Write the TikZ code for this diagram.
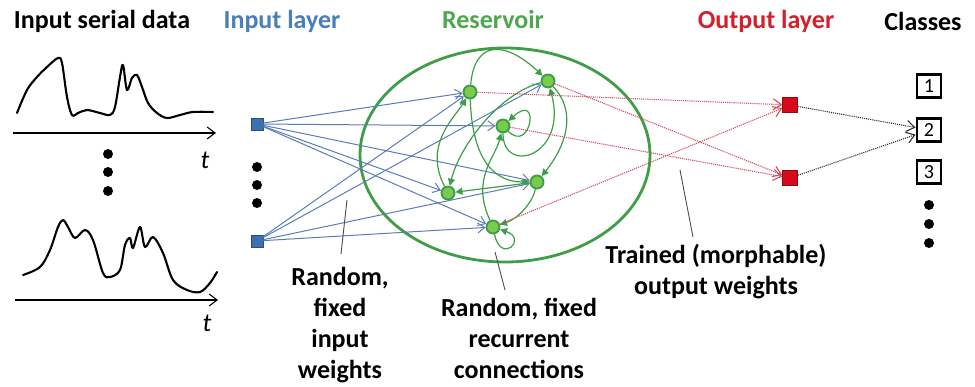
\documentclass[tikz,border=0pt]{standalone}
\usepackage{fontspec}
\setmainfont{Carlito}
\usetikzlibrary{arrows.meta}

\definecolor{inblue}{HTML}{3F6FB3}
\definecolor{wblue}{HTML}{5A7DBA}
\definecolor{resgreen}{HTML}{3E9E47}
\definecolor{nodegreen}{HTML}{7ACD4C}
\definecolor{outred}{HTML}{D80A1A}
\definecolor{wred}{HTML}{D34A5C}
\definecolor{headblue}{HTML}{4A7EBB}
\definecolor{headgreen}{HTML}{4DA84D}
\definecolor{headred}{HTML}{D2202C}

\tikzset{
  innode/.style={rectangle,draw=inblue!70!black,fill=inblue,minimum size=12pt,inner sep=0pt,line width=0.8pt},
  resnode/.style={circle,draw=resgreen,fill=nodegreen,minimum size=13pt,inner sep=0pt,line width=1.9pt},
  outnode/.style={rectangle,draw=outred!70!black,fill=outred,minimum size=15pt,inner sep=0pt,line width=0.6pt},
  classbox/.style={rectangle,draw=black,line width=2.8pt,minimum width=24pt,minimum height=23pt,inner sep=0pt,font=\fontsize{20}{20}\selectfont},
  dotnode/.style={circle,fill=black,minimum size=10pt,inner sep=0pt},
  headline/.style={font=\fontsize{26}{30}\selectfont\bfseries,anchor=base},
  notetext/.style={font=\fontsize{26}{31}\selectfont\bfseries,align=center},
  inweight/.style={wblue,line width=1pt,-{Straight Barb[length=7pt,width=10pt]}},
  recur/.style={resgreen,line width=1.2pt,-{Triangle[length=7pt,width=7pt]}},
  outweight/.style={wred,line width=1.1pt,densely dotted,-{Straight Barb[length=8pt,width=11pt]}},
  classweight/.style={black!80,line width=1.1pt,densely dotted,-{Straight Barb[length=8pt,width=11pt]}},
  pinline/.style={black!70,line width=0.9pt},
  axis/.style={line width=1.1pt,-{Straight Barb[length=8pt,width=12pt]}},
  wave/.style={line width=2.1pt,line join=round,line cap=round},
}

\begin{document}
\begin{tikzpicture}[x=1pt,y=-1pt]
        \useasboundingbox (0,0) rectangle (975,387);

        % headings
        \node[headline]                 (hdata)  at (102,29) {Input serial data};
        \node[headline,text=headblue]   (hin)    at (282,29) {Input layer};
        \node[headline,text=headgreen]  (hres)   at (493,29) {Reservoir};
        \node[headline,text=headred]    (hout)   at (766,29) {Output layer};
        \node[headline]                 (hcls)   at (923,31) {Classes};

        % serial data
        \draw[wave] plot[smooth,tension=0.55] coordinates {(17,113) (27,90) (37,77) (47,67) (58,58) (62,63) (67,97)
          (72,115) (78,113) (87,110) (100,113) (110,115) (115,107) (120,77) (123,65) (127,90) (132,78) (137,75)
          (142,87) (148,103) (157,113) (167,118) (180,115) (193,112) (213,112)};
        \draw[wave] plot[smooth,tension=0.55] coordinates {(23,275) (40,267) (50,250) (58,227) (63,220) (68,227)
          (75,238) (85,230) (93,240) (103,273) (110,277) (120,270) (125,245) (130,238) (133,248) (140,227)
          (145,247) (153,237) (163,253) (173,280) (187,290) (200,292) (210,283) (217,272)};
        \coordinate (t1s) at (13,133);
        \coordinate (t1e) at (216,133);
        \coordinate (t2s) at (15,300);
        \coordinate (t2e) at (218,300);
        \draw[axis] (t1s) -- (t1e);
        \draw[axis] (t2s) -- (t2e);
        \node[font=\fontsize{26}{26}\selectfont\itshape] (tl1) at (205,160) {t};
        \node[font=\fontsize{26}{26}\selectfont\itshape] (tl2) at (207,323) {t};

        \begin{scope}[every node/.style={dotnode}]
          \foreach \y [count=\i] in {154,172,191} \node (dd\i) at (108,\y) {};
          \foreach \y [count=\i] in {167,185,203} \node (di\i) at (257,\y) {};
          \foreach \y [count=\i] in {205,224,243} \node (dc\i) at (929,\y) {};
        \end{scope}

        % reservoir
        \draw[resgreen,line width=2.8pt] (505,155) ellipse [x radius=145pt,y radius=107pt];

        \begin{scope}[every node/.style={innode}]
          \node (in1) at (257,124) {};
          \node (in2) at (257,241) {};
        \end{scope}

        \begin{scope}[every node/.style={resnode}]
          \node (A) at (470,92)  {};
          \node (B) at (548,81)  {};
          \node (C) at (503,126) {};
          \node (D) at (537,182) {};
          \node (E) at (448,193) {};
          \node (F) at (493,227) {};
        \end{scope}

        \begin{scope}[every node/.style={outnode}]
          \node (o1) at (790,105) {};
          \node (o2) at (790,178) {};
        \end{scope}

        \begin{scope}[every node/.style={classbox}]
          \node (c1) at (929,86)  {1};
          \node (c2) at (929,130) {2};
          \node (c3) at (929,172) {3};
        \end{scope}

        % input weights
        \begin{scope}[every path/.style={inweight}]
          \draw (in1) -- (A);
          \draw (in1) -- (C);
          \draw (in1) -- (D);
          \draw (in1) -- (E);
          \draw (in1) -- (F);
          \draw (in2) -- (A);
          \draw (in2) -- (B);
          \draw (in2) -- (D);
          \draw (in2) -- (F);
        \end{scope}

        % recurrent connections
        \begin{scope}[every path/.style={recur}]
          \draw (A) .. controls +(5,-55) and +(-40,-38) .. (B);
          \draw (E) .. controls +(-25,-48) and +(-15,25) .. (A);
          \draw (B) .. controls +(-48,12) and +(12,-48) .. (E);
          \draw (A) .. controls +(2,60) and +(-48,0) .. (D);
          \draw (C) .. controls +(28,28) and +(38,-35) .. (C);
          \draw (C) .. controls +(0,50) and +(20,75) .. (B);
          \draw (B) .. controls +(30,32) and +(28,-35) .. (D);
          \draw (D) -- (E);
          \draw (D) .. controls +(-5,22) and +(24,-8) .. (F);
          \draw (F) .. controls +(8,38) and +(35,12) .. (F);
          \draw (F) .. controls +(-22,-48) and +(-8,32) .. (C);
        \end{scope}

        % output weights
        \begin{scope}[every path/.style={outweight}]
          \draw (A) -- (o1);
          \draw (F) -- (o1);
          \draw (B) -- (o2);
          \draw (C) -- (o2);
        \end{scope}
        \draw[classweight] (o1) -- (c2);
        \draw[classweight] (o2) -- (c2);

        % notes
        \node[notetext] (nin)  at (340,325) {Random,\\fixed\\input\\weights};
        \node[notetext] (nres) at (519,338) {Random, fixed\\recurrent\\connections};
        \node[notetext] (nout) at (716,272) {Trained (morphable)\\output weights};
        \coordinate (pin1) at (347,200);
        \coordinate (pin1b) at (341,254);
        \coordinate (pin2) at (495,252);
        \coordinate (pin2b) at (505,290);
        \coordinate (pin3) at (680,170);
        \coordinate (pin3b) at (693,237);
        \draw[pinline] (pin1) -- (pin1b);
        \draw[pinline] (pin2) -- (pin2b);
        \draw[pinline] (pin3) -- (pin3b);

      \end{tikzpicture}
\end{document}
